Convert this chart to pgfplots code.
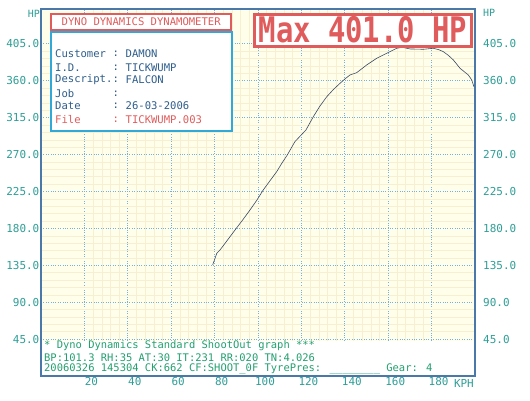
\documentclass[border=0pt]{standalone}
\usepackage{pgfplots}
\pgfplotsset{compat=1.18}
\usepackage{graphicx}
\usepackage{fontspec}
\setmainfont{DejaVu Sans Mono}
\setmonofont{DejaVu Sans Mono}
\definecolor{bgyel}{HTML}{FFFEEA}
\definecolor{minorg}{HTML}{F6F0D0}
\definecolor{gridblue}{HTML}{78B0DC}
\definecolor{frameblue}{HTML}{4A78A8}
\definecolor{ticklab}{HTML}{2E9E96}
\definecolor{bottxt}{HTML}{22A070}
\definecolor{redc}{HTML}{E05C5C}
\definecolor{infotxt}{HTML}{2E5E8C}
\definecolor{infobord}{HTML}{30A8D8}
\definecolor{curvec}{HTML}{3A4A66}
\begin{document}
\begin{tikzpicture}[x=1bp,y=1bp]
\useasboundingbox (-41,-24) rectangle (489,376);
\begin{axis}[
  at={(0,0)}, anchor=south west,
  scale only axis, width=434bp, height=367bp,
  xmin=0, xmax=200, ymin=0, ymax=447.5,
  axis background/.style={fill=bgyel},
  xtick={20,40,...,180},
  xticklabels={20,40,60,80,100,120,140,160,180},
  ytick={45,90,...,405},
  yticklabels={45.0,90.0,135.0,180.0,225.0,270.0,315.0,360.0,405.0},
  minor x tick num=4, minor y tick num=4,
  grid=both,
  major grid style={dotted, color=gridblue, line width=0.8pt},
  minor grid style={color=minorg, line width=0.5pt},
  major tick length=0pt, minor tick length=0pt,
  axis line style={draw=frameblue, line width=1.3pt},
  /pgf/number format/assume math mode=true,
  xticklabel style={font=\fontsize{11}{11}\selectfont, text=ticklab, xshift=7bp, inner ysep=1.5bp},
  yticklabel style={font=\fontsize{11}{11}\selectfont, text=ticklab, inner xsep=1.5bp},
]
\fill[white] (axis cs:0.3,0.8) rectangle (axis cs:199.7,43);
\addplot[color=curvec, line width=0.6pt, mark=none] coordinates {
(79.1,135.4) (80.0,142.0) (81.0,149.6) (82.5,153.7) (86.0,166.0) (89.4,178.0)
(93.0,190.5) (96.3,202.4) (99.5,214.5) (102.4,226.8) (105.5,238.0) (108.6,249.1)
(111.0,259.5) (113.5,269.5) (117.0,285.7) (119.6,293.0) (122.1,300.0) (125.5,316.2)
(128.5,329.0) (131.7,340.6) (134.8,349.5) (137.8,356.9) (140.2,362.5) (142.4,367.1)
(145.5,369.9) (150.1,379.3) (154.7,387.4) (159.3,393.5) (163.9,399.6) (166.5,400.8)
(170.0,398.8) (176.2,398.4) (180.8,399.6) (183.2,398.0) (185.4,395.5) (187.8,390.8)
(190.0,385.4) (193.1,375.2) (196.9,367.1) (198.5,361.0) (199.5,352.8)
};
\end{axis}
\begin{axis}[
  at={(0,0)}, anchor=south west,
  scale only axis, width=434bp, height=367bp,
  xmin=0, xmax=200, ymin=0, ymax=447.5,
  xtick=\empty,
  ytick={45,90,...,405},
  yticklabels={45.0,90.0,135.0,180.0,225.0,270.0,315.0,360.0,405.0},
  yticklabel pos=right,
  major tick length=0pt,
  axis line style={draw=none},
  /pgf/number format/assume math mode=true,
  yticklabel style={font=\fontsize{11}{11}\selectfont, text=ticklab, anchor=west, inner xsep=0pt, xshift=8bp},
]
\end{axis}
% HP labels and KPH
\node[font=\fontsize{10}{10}\selectfont, text=ticklab, anchor=east, inner sep=0pt] at (-1,362.5) {HP};
\node[font=\fontsize{10}{10}\selectfont, text=ticklab, anchor=west, inner sep=0pt] at (442,363) {HP};
\node[font=\fontsize{11}{11}\selectfont, text=ticklab, anchor=north east, inner sep=0pt] at (433,-3) {KPH};
% title box
\node[draw=redc, line width=2bp, fill=white, text=redc, font=\fontsize{10.6}{10.6}\selectfont,
  minimum width=180bp, minimum height=16bp, inner sep=0pt] at (100.2,354.3) {DYNO DYNAMICS DYNAMOMETER};
% info box
\draw[infobord, line width=2.2bp, fill=white] (9.7,245.3) rectangle (191.3,344.3);
\begin{scope}[every node/.style={font=\fontsize{10.6}{10.6}\selectfont, text=infotxt, anchor=west, inner sep=0pt}]
\node at (14,322) {Customer}; \node at (71.5,322) {:}; \node at (84.5,322) {DAMON};
\node at (14,308.7) {I.D.}; \node at (71.5,308.7) {:}; \node at (84.5,308.7) {TICKWUMP};
\node at (14,296) {Descript.}; \node at (71.5,296) {:}; \node at (84.5,296) {FALCON};
\node at (14,282.7) {Job}; \node at (71.5,282.7) {:};
\node at (14,270) {Date}; \node at (71.5,270) {:}; \node at (84.5,270) {26-03-2006};
\node[text=redc] at (14,256) {File}; \node[text=redc] at (71.5,256) {:}; \node[text=redc] at (84.5,256) {TICKWUMP.003};
\end{scope}
% max box
\node[draw=redc, line width=3bp, fill=white, text=redc, minimum width=217bp, minimum height=32bp, inner sep=0pt]
  at (322,346) {\scalebox{1}[1.22]{\fontsize{29}{29}\selectfont\bfseries Max 401.0 HP}};
% bottom text
\begin{scope}[every node/.style={font=\fontsize{10.5}{10.5}\selectfont, text=bottxt, anchor=west, inner sep=0pt}]
\node at (3,30) {* Dyno Dynamics Standard ShootOut graph ***};
\node at (3,18.7) {BP:101.3 RH:35 AT:30 IT:231 RR:020 TN:4.026};
\node at (3,7) {20060326 145304 CK:662 CF:SHOOT\_0F TyrePres: \_\_\_\_\_\_\_\_ Gear: 4};
\end{scope}
\end{tikzpicture}
\end{document}
